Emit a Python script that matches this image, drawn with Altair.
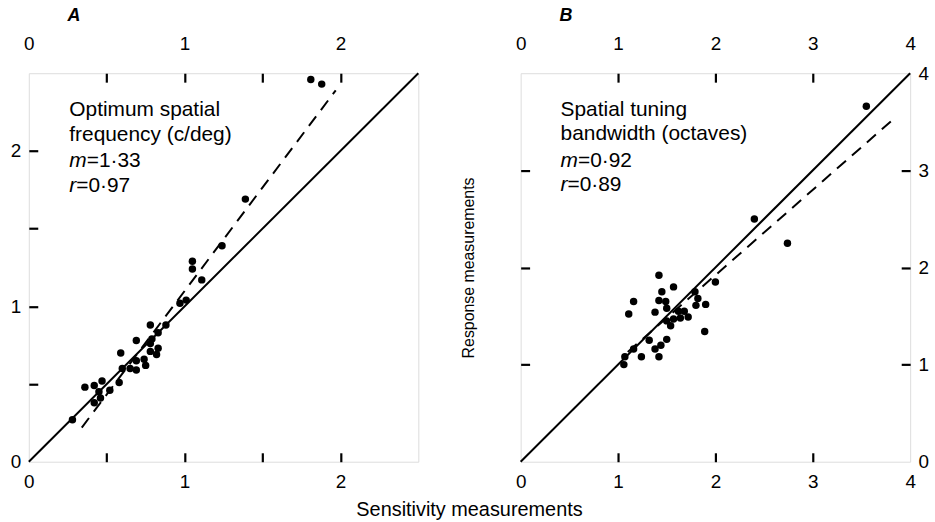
import altair as alt
import pandas as pd

# ---------------- data ----------------
A_x = [0.28, 0.36, 0.42, 0.47, 0.45, 0.46, 0.42, 0.52, 0.58, 0.59, 0.60, 0.65, 0.69,
       0.69, 0.74, 0.75, 0.69, 0.78, 0.88, 0.83, 0.79, 0.78, 0.78, 0.83, 0.82,
       0.97, 1.01, 1.11, 1.05, 1.05, 1.24, 1.39, 1.81, 1.88]
A_y = [0.27, 0.48, 0.49, 0.52, 0.45, 0.41, 0.38, 0.46, 0.51, 0.70, 0.60, 0.60, 0.59,
       0.65, 0.66, 0.62, 0.78, 0.88, 0.88, 0.83, 0.79, 0.76, 0.71, 0.73, 0.69,
       1.02, 1.04, 1.17, 1.29, 1.24, 1.39, 1.69, 2.46, 2.43]

B_x = [1.42, 1.57, 1.45, 1.16, 1.42, 1.49, 1.50, 1.11, 1.38, 1.79, 1.82, 2.00, 1.90,
       1.80, 1.62, 1.68, 1.72, 1.64, 1.57, 1.50, 1.54, 1.89, 1.32, 1.50, 1.44, 1.38,
       1.16, 1.24, 1.42, 1.07, 1.06, 3.55, 2.40, 2.74]
B_y = [1.92, 1.80, 1.75, 1.65, 1.66, 1.65, 1.58, 1.52, 1.54, 1.75, 1.68, 1.85, 1.62,
       1.61, 1.55, 1.55, 1.49, 1.48, 1.47, 1.45, 1.40, 1.34, 1.25, 1.26, 1.20, 1.16,
       1.16, 1.08, 1.08, 1.08, 1.00, 3.66, 2.50, 2.25]

A_fit_x = [0.34, 1.97]
A_fit_y = [0.22, 2.39]
B_fit_x = [1.10, 3.82]
B_fit_y = [1.13, 3.52]

A_max = 2.5
B_max = 4.0
A_ticks = [0.5, 1, 1.5, 2]
A_labels = [0, 1, 2]
B_ticks = [1, 2, 3]
B_labels = [0, 1, 2, 3, 4]

A_lines = ["Optimum spatial", "frequency (c/deg)"]
A_stats = [("m", "=1·33"), ("r", "=0·97")]
B_lines = ["Spatial tuning", "bandwidth (octaves)"]
B_stats = [("m", "=0·92"), ("r", "=0·89")]

# annotation anchor positions in data units (x, y of each text row)
A_text_x = 0.26
A_text_y = [2.263, 2.104, 1.937, 1.777]
B_text_x = 0.41
B_text_y = [3.62, 3.37, 3.10, 2.85]

FONT = "Liberation Sans"
W, H = 392, 391
TL = 9
TXT = 21
ITAL_W = {"m": 17.5, "r": 7.0}


def label_axis(orient, values, pad):
    return alt.Axis(orient=orient, values=values, format="d", ticks=False, domain=False,
                    grid=False, title=None, labelPadding=pad, labelFont=FONT,
                    labelFontSize=19, labelColor="black", labelFlush=False,
                    labelOverlap=False, minExtent=0)


def tick_axis(orient, values):
    return alt.Axis(orient=orient, values=values, labels=False, domain=False, grid=False,
                    ticks=True, tickSize=TL, tickWidth=2.2, tickColor="black",
                    offset=-TL, title=None, minExtent=0, maxExtent=0)


def panel(xs, ys, fx, fy, dmax, ticks, labels, lines, stats, tx, ty, letter,
          left_labels, right_labels, right_ticks, ytitle):
    sc = alt.Scale(domain=[0, dmax], nice=False, zero=False)
    pts = pd.DataFrame({"x": xs, "y": ys})
    ident = pd.DataFrame({"x": [0, dmax], "y": [0, dmax]})
    fit = pd.DataFrame({"x": fx, "y": fy})

    if left_labels:
        left_ax = label_axis("left", labels, 8)
    else:
        left_ax = alt.Axis(orient="left", labels=False, ticks=False, domain=False,
                           grid=False, title=ytitle, titleFont=FONT, titleFontSize=16,
                           titleFontWeight="normal", titleColor="black",
                           titlePadding=44, minExtent=0)

    points = alt.Chart(pts).mark_circle(size=56, color="black", opacity=1).encode(
        x=alt.X("x:Q", scale=sc, axis=label_axis("bottom", labels, 11)),
        y=alt.Y("y:Q", scale=sc, axis=left_ax),
    )
    solid = alt.Chart(ident).mark_line(color="black", strokeWidth=2).encode(
        x=alt.X("x:Q", scale=sc, axis=label_axis("top", labels, 20)),
        y=alt.Y("y:Q", scale=sc,
                axis=label_axis("right", labels, 8) if right_labels else None),
    )
    dashed = alt.Chart(fit).mark_line(color="black", strokeWidth=2,
                                      strokeDash=[12, 8]).encode(
        x=alt.X("x:Q", scale=sc, axis=tick_axis("bottom", ticks)),
        y=alt.Y("y:Q", scale=sc, axis=tick_axis("left", ticks)),
    )
    ghost = alt.Chart(ident).mark_line(opacity=0).encode(
        x=alt.X("x:Q", scale=sc, axis=tick_axis("top", ticks)),
        y=alt.Y("y:Q", scale=sc, axis=tick_axis("right", ticks) if right_ticks else None),
    )

    head = pd.DataFrame({"x": [tx] * 2, "y": ty[:2], "t": lines})
    head_txt = alt.Chart(head).mark_text(align="left", baseline="middle", font=FONT,
                                         fontSize=TXT, color="black").encode(
        x=alt.X("x:Q", scale=sc, axis=None), y=alt.Y("y:Q", scale=sc, axis=None),
        text="t:N")
    layers = [points, solid, dashed, ghost, head_txt]
    for i, (sym, rest) in enumerate(stats):
        d = pd.DataFrame({"x": [tx], "y": [ty[2 + i]], "s": [sym], "r": [rest]})
        layers.append(alt.Chart(d).mark_text(align="left", baseline="middle", font=FONT,
                                             fontSize=TXT, fontStyle="italic",
                                             color="black").encode(
            x=alt.X("x:Q", scale=sc, axis=None), y=alt.Y("y:Q", scale=sc, axis=None),
            text="s:N"))
        layers.append(alt.Chart(d).mark_text(align="left", baseline="middle", font=FONT,
                                             fontSize=TXT, color="black",
                                             dx=ITAL_W[sym]).encode(
            x=alt.X("x:Q", scale=sc, axis=None), y=alt.Y("y:Q", scale=sc, axis=None),
            text="r:N"))

    return alt.layer(*layers).resolve_axis(x="independent", y="independent").properties(
        width=W, height=H,
        title=alt.TitleParams(letter, anchor="start", frame="group", dx=39,
                              fontStyle="italic", fontWeight="bold", fontSize=18,
                              font=FONT, color="black", offset=10),
    )


pA = panel(A_x, A_y, A_fit_x, A_fit_y, A_max, A_ticks, A_labels, A_lines, A_stats,
           A_text_x, A_text_y, "A", True, False, False, None)
pB = panel(B_x, B_y, B_fit_x, B_fit_y, B_max, B_ticks, B_labels, B_lines, B_stats,
           B_text_x, B_text_y, "B", False, True, True, "Response measurements")

chart = alt.hconcat(pA, pB, spacing=37).properties(
    padding={"left": 9, "top": 4, "right": 5, "bottom": 4},
    title=alt.TitleParams("Sensitivity measurements", orient="bottom", anchor="middle",
                          fontSize=20, fontWeight="normal", font=FONT, color="black",
                          offset=8),
).configure_view(stroke="black", strokeWidth=2.2).configure(background="white")

chart.save("out.html", embed_options={"renderer": "svg", "actions": False})
